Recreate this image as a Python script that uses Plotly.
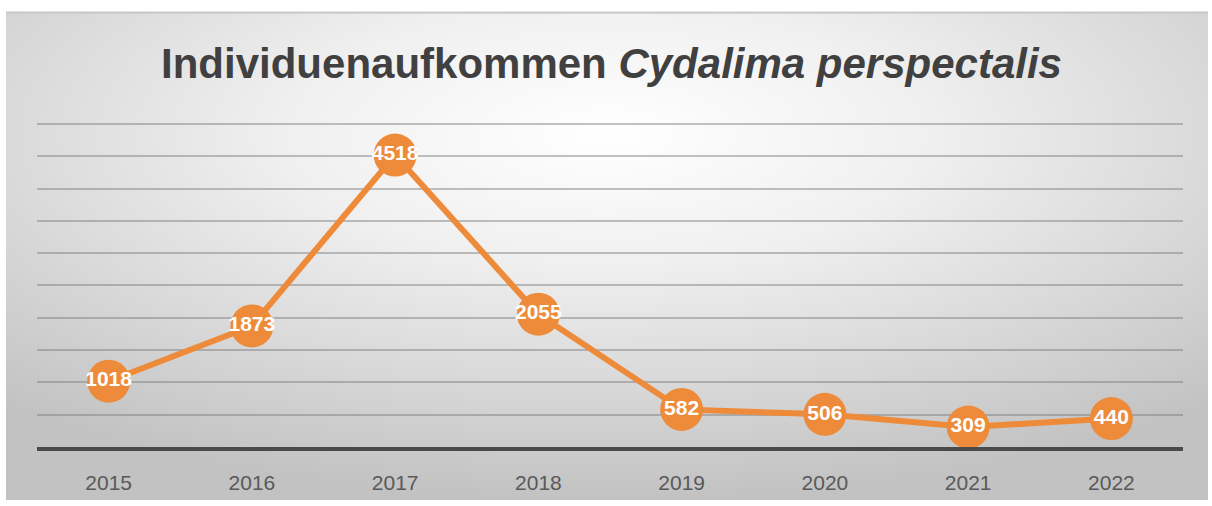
import plotly.graph_objects as go
import base64

years = ["2015", "2016", "2017", "2018", "2019", "2020", "2021", "2022"]
counts = [1018, 1873, 4518, 2055, 582, 506, 309, 440]
title_main = "Individuenaufkommen"
title_species = "Cydalima perspectalis"

W, H = 1212, 506
orange = "#ED8B3A"

svg = f'''<svg xmlns="http://www.w3.org/2000/svg" width="{W}" height="{H}" viewBox="0 0 {W} {H}" preserveAspectRatio="none">
<defs><radialGradient id="g" cx="50%" cy="25%" r="75%" fx="50%" fy="25%">
<stop offset="0" stop-color="#ffffff"/><stop offset="0.35" stop-color="#f0f0f0"/><stop offset="1" stop-color="#c2c2c2"/></radialGradient></defs>
<rect x="0" y="0" width="{W}" height="{H}" fill="#ffffff"/>
<rect x="6" y="10" width="{W-10}" height="{H-10}" fill="url(#g)"/>
<rect x="6" y="10" width="{W-10}" height="2" fill="#c8c8c8"/>
</svg>'''
bg = "data:image/svg+xml;base64," + base64.b64encode(svg.encode()).decode()

fig = go.Figure()
fig.add_trace(go.Scatter(
    x=years, y=counts, mode="lines+markers+text",
    line=dict(color=orange, width=6),
    marker=dict(size=43, color=orange),
    text=[str(v) for v in counts], textposition="middle center",
    textfont=dict(family="Liberation Sans, Arial, sans-serif", size=21, color="white", weight="bold"),
    cliponaxis=False, hoverinfo="skip", showlegend=False,
))

L, R, T, B = 37, 29, 120, 54
fig.update_layout(
    width=W, height=H,
    margin=dict(l=L, r=R, t=T, b=B),
    paper_bgcolor="white", plot_bgcolor="rgba(0,0,0,0)",
    images=[dict(source=bg, xref="paper", yref="paper", x=-L/(W-L-R), y=1+T/(H-T-B),
                 sizex=W/(W-L-R), sizey=H/(H-T-B), xanchor="left", yanchor="top",
                 sizing="stretch", layer="below")],
    title=dict(text=f"<b>{title_main} <i>{title_species}</i></b>",
               x=611.5/W, xanchor="center", xref="container", y=1-63/H, yanchor="middle", yref="container",
               font=dict(family="Liberation Sans, Arial, sans-serif", size=42, color="#404040")),
    xaxis=dict(type="category", range=[-0.5, 7.5], showgrid=False, showline=True, linecolor="#4a4a4a", linewidth=4,
               ticks="", ticklabelstandoff=14,
               tickfont=dict(family="Liberation Sans, Arial, sans-serif", size=21, color="#595959"),
               fixedrange=True),
    yaxis=dict(range=[0, 5060], tick0=0, dtick=500, showgrid=True, gridcolor="rgba(120,120,120,0.45)", gridwidth=2,
               showticklabels=False, zeroline=False, showline=False, fixedrange=True),
)

fig.write_html("out.html", config={"displayModeBar": False, "staticPlot": True},
               post_script="document.body.style.margin='0';document.body.style.padding='0';")
